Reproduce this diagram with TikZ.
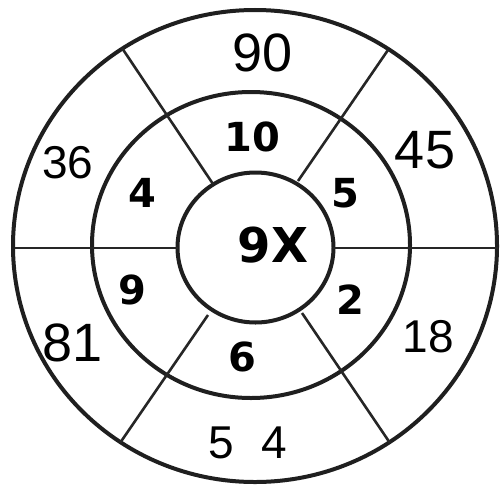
\documentclass[tikz,border=0pt]{standalone}
\usepackage{fontspec}
\setmainfont{Liberation Sans}
\newfontfamily\printfont{DejaVu Sans}
\begin{document}
\begin{tikzpicture}[x=1pt,y=-1pt,
 ring/.style={line width=4pt, black!88},
 spoke/.style={line width=2.6pt, black!85},
 hand/.style={font=\fontsize{46}{46}\selectfont, inner sep=0pt},
 handbig/.style={font=\fontsize{54}{54}\selectfont, inner sep=0pt},
 print/.style={font=\printfont\fontsize{40}{40}\selectfont\bfseries, inner sep=0pt},
 printbig/.style={font=\printfont\fontsize{48}{48}\selectfont\bfseries, inner sep=0pt}]
\useasboundingbox (0,0) rectangle (502,487);
% rings
\draw[ring] (255,246) ellipse [x radius=242pt, y radius=236pt];
\draw[ring] (251,245) ellipse [x radius=159pt, y radius=153pt];
\draw[ring] (255.5,247.5) ellipse [x radius=78pt, y radius=75pt];
% spoke end points
\coordinate (ul1) at (122,48);  \coordinate (ul2) at (213,184);
\coordinate (ur1) at (388,50);  \coordinate (ur2) at (298,181);
\coordinate (ll1) at (120,443); \coordinate (ll2) at (208,315);
\coordinate (lr1) at (390,443); \coordinate (lr2) at (302,313);
\coordinate (hl1) at (15,248);  \coordinate (hl2) at (178,248);
\coordinate (hr1) at (333,248); \coordinate (hr2) at (498,248);
\draw[spoke] (ul1) -- (ul2);
\draw[spoke] (ur1) -- (ur2);
\draw[spoke] (ll1) -- (ll2);
\draw[spoke] (lr1) -- (lr2);
\draw[spoke] (hl1) -- (hl2);
\draw[spoke] (hr1) -- (hr2);
% outer ring numbers (handwritten)
\node[handbig] (n90) at (263,53) {90};
\node[handbig] (n45) at (425,150) {45};
\node[hand] (n36) at (68,163) {36};
\node[handbig] (n81) at (73,343) {81};
\node[hand] (n18) at (428,337) {18};
\node[hand] (n54) at (248,443) {5\kern28pt 4};
% middle ring numbers (printed)
\node[print] (n10) at (252,137) {10};
\node[print] (n4) at (142,193) {4};
\node[print] (n5) at (345,193) {5};
\node[print] (n9) at (132,290) {9};
\node[print] (n2) at (350,300) {2};
\node[print] (n6) at (242,357) {6};
% centre
\node[printbig] (c) at (273,245) {9X};
\end{tikzpicture}
\end{document}
